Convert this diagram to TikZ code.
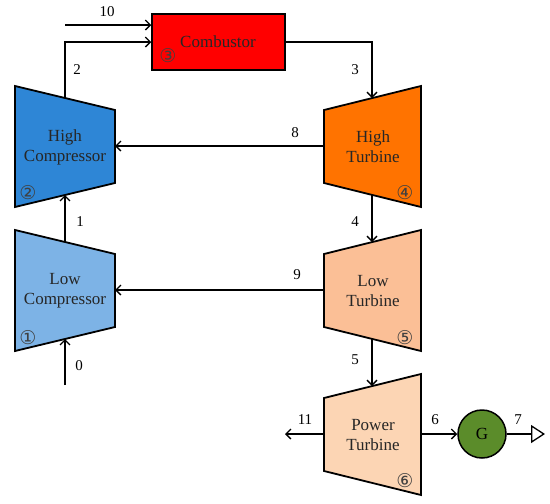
\documentclass[tikz,border=0pt]{standalone}
\usepackage{fontspec}
\setmainfont{Liberation Serif}
\newfontfamily\circfont{DejaVu Sans}
\usetikzlibrary{arrows.meta}
\definecolor{hcblue}{HTML}{2E86D6}
\definecolor{lcblue}{HTML}{7DB3E6}
\definecolor{htorange}{HTML}{FF7300}
\definecolor{ltpeach}{HTML}{FBBF96}
\definecolor{ptpeach}{HTML}{FCD5B4}
\definecolor{ggreen}{HTML}{5B8C2A}
\begin{document}
\begin{tikzpicture}[x=1pt,y=-1pt,
  flow/.style={line width=1.3pt,-{Straight Barb[length=5pt,width=10pt,line width=1.3pt]}},
  unit/.style={draw=black,line width=1.8pt,line join=miter},
  lbl/.style={font=\fontsize{15}{15}\selectfont},
  txt/.style={font=\fontsize{17}{20}\selectfont,align=center,text=black!85},
  num/.style={font=\circfont\fontsize{19}{19}\selectfont,text=black!75,inner sep=0pt}]
\useasboundingbox (0,0) rectangle (550,504);
% high compressor
\draw[unit,fill=hcblue] (15,86) -- (115,110) -- (115,183) -- (15,207) -- cycle;
\node[txt] (hc) at (65,147) {High\\Compressor};
\coordinate (hcT) at (65,98);
\coordinate (hcB) at (65,195);
\coordinate (hcR) at (115,146);
\node[num] (n2) at (28,193) {②};
% low compressor
\draw[unit,fill=lcblue] (15,230) -- (115,254) -- (115,327) -- (15,351) -- cycle;
\node[txt] (lc) at (65,291) {Low\\Compressor};
\coordinate (lcT) at (65,242);
\coordinate (lcB) at (65,339);
\coordinate (lcR) at (115,290);
\node[num] (n1) at (28,338) {①};
% combustor
\node[draw=black,line width=1.5pt,fill=red,minimum width=133pt,minimum height=56pt,inner sep=0pt] (comb) at (218.5,42) {};
\node[txt] (combt) at (218,42) {Combustor};
\node[num] (n3) at (168,56) {③};
% high turbine
\draw[unit,fill=htorange] (324,110) -- (421,86) -- (421,207) -- (324,183) -- cycle;
\node[txt] (ht) at (373,147) {High\\Turbine};
\coordinate (htT) at (372,98);
\coordinate (htB) at (372,195);
\coordinate (htL) at (324,146);
\node[num] (n4) at (405,193) {④};
% low turbine
\draw[unit,fill=ltpeach] (324,254) -- (421,230) -- (421,351) -- (324,327) -- cycle;
\node[txt] (lt) at (373,291) {Low\\Turbine};
\coordinate (ltT) at (372,242);
\coordinate (ltB) at (372,339);
\coordinate (ltL) at (324,290);
\node[num] (n5) at (405,338) {⑤};
% power turbine
\draw[unit,fill=ptpeach] (324,398) -- (421,374) -- (421,495) -- (324,471) -- cycle;
\node[txt] (pt) at (373,435) {Power\\Turbine};
\coordinate (ptT) at (372,386);
\coordinate (ptL) at (324,434);
\coordinate (ptR) at (421,434);
\node[num] (n6) at (405,481) {⑥};
% generator
\node[circle,draw=black,line width=1.5pt,fill=ggreen,minimum size=48pt,inner sep=0pt,font=\fontsize{17}{17}\selectfont] (g) at (482,434) {G};
% free ends
\coordinate (in10) at (65,25);
\coordinate (in0) at (65,385);
\coordinate (out11) at (285,434);
\coordinate (out7) at (545,434);
% connectors
\draw[flow] (in10) -- (comb.west |- in10);
\draw[flow] (hcT) |- (comb.west);
\draw[flow] (comb.east) -| (htT);
\draw[flow] (htL) -- (hcR);
\draw[flow] (ltL) -- (lcR);
\draw[flow] (lcT) -- (hcB);
\draw[flow] (in0) -- (lcB);
\draw[flow] (htB) -- (ltT);
\draw[flow] (ltB) -- (ptT);
\draw[flow] (ptL) -- (out11);
\draw[flow] (ptR) -- (g.west);
\draw[line width=1.3pt,-{Triangle[open,length=14pt,width=18pt,line width=1.3pt]}] (g.east) -- (out7);
% labels
\node[lbl] (l10) at (107,12) {10};
\node[lbl] (l2) at (77,70) {2};
\node[lbl] (l1) at (80,222) {1};
\node[lbl] (l0) at (79,366) {0};
\node[lbl] (l3) at (355,70) {3};
\node[lbl] (l8) at (295,133) {8};
\node[lbl] (l9) at (297,275) {9};
\node[lbl] (l4) at (355,222) {4};
\node[lbl] (l5) at (355,360) {5};
\node[lbl] (l11) at (305,420) {11};
\node[lbl] (l6) at (435,420) {6};
\node[lbl] (l7) at (518,420) {7};
\end{tikzpicture}
\end{document}
